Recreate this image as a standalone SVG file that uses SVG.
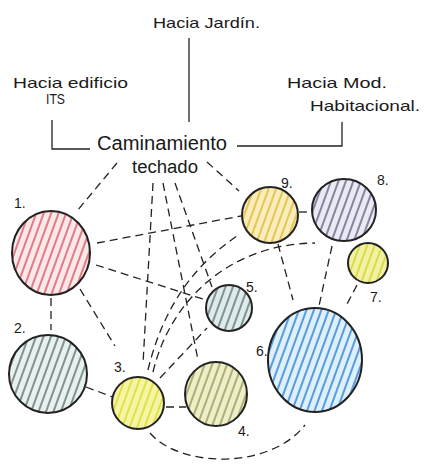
<svg xmlns="http://www.w3.org/2000/svg" width="425" height="471" viewBox="0 0 425 471">
<defs>
<pattern id="h1" width="7" height="10" patternUnits="userSpaceOnUse" patternTransform="rotate(20)"><rect width="7" height="10" fill="#fbe8e8"/><line x1="2" y1="0" x2="2" y2="10" stroke="#d8404e" stroke-width="1.3"/></pattern>
<pattern id="h2" width="7" height="10" patternUnits="userSpaceOnUse" patternTransform="rotate(20)"><rect width="7" height="10" fill="#e6f1f0"/><line x1="2" y1="0" x2="2" y2="10" stroke="#4d5d5a" stroke-width="1.3"/></pattern>
<pattern id="h3" width="7" height="10" patternUnits="userSpaceOnUse" patternTransform="rotate(20)"><rect width="7" height="10" fill="#f6f5a6"/><line x1="2" y1="0" x2="2" y2="10" stroke="#dcdc30" stroke-width="1.6"/></pattern>
<pattern id="h4" width="7" height="10" patternUnits="userSpaceOnUse" patternTransform="rotate(20)"><rect width="7" height="10" fill="#eeeec8"/><line x1="2" y1="0" x2="2" y2="10" stroke="#8c8c4c" stroke-width="1.3"/></pattern>
<pattern id="h5" width="7" height="10" patternUnits="userSpaceOnUse" patternTransform="rotate(20)"><rect width="7" height="10" fill="#dfeaea"/><line x1="2" y1="0" x2="2" y2="10" stroke="#4c6464" stroke-width="1.3"/></pattern>
<pattern id="h6" width="7" height="10" patternUnits="userSpaceOnUse" patternTransform="rotate(20)"><rect width="7" height="10" fill="#def0fb"/><line x1="2" y1="0" x2="2" y2="10" stroke="#2e7fd2" stroke-width="1.5"/></pattern>
<pattern id="h7" width="7" height="10" patternUnits="userSpaceOnUse" patternTransform="rotate(20)"><rect width="7" height="10" fill="#f2f2a2"/><line x1="2" y1="0" x2="2" y2="10" stroke="#d4d636" stroke-width="1.6"/></pattern>
<pattern id="h8" width="7" height="10" patternUnits="userSpaceOnUse" patternTransform="rotate(20)"><rect width="7" height="10" fill="#eaeaf3"/><line x1="2" y1="0" x2="2" y2="10" stroke="#4f4d78" stroke-width="1.3"/></pattern>
<pattern id="h9" width="7" height="10" patternUnits="userSpaceOnUse" patternTransform="rotate(20)"><rect width="7" height="10" fill="#f9eebb"/><line x1="2" y1="0" x2="2" y2="10" stroke="#e2bb3c" stroke-width="1.6"/></pattern>
</defs>
<style>
text{font-family:"Liberation Sans","DejaVu Sans",sans-serif;fill:#1a1a1a}
.lbl{font-size:15px}
.num{font-size:14px}
.node{stroke:#222;stroke-width:2}
.solid{fill:none;stroke:#222;stroke-width:1.3}
.dash{fill:none;stroke:#222;stroke-width:1.3;stroke-dasharray:8 5}
</style>
<rect width="425" height="471" fill="#ffffff"/>

<g id="labels">
<text class="lbl" x="153" y="28" textLength="107" lengthAdjust="spacingAndGlyphs">Hacia Jardín.</text>
<text class="lbl" x="13" y="88" textLength="115" lengthAdjust="spacingAndGlyphs">Hacia edificio</text>
<text class="lbl" x="46" y="104" font-size="14" textLength="19" lengthAdjust="spacingAndGlyphs">ITS</text>
<text class="lbl" x="287" y="88" textLength="100" lengthAdjust="spacingAndGlyphs">Hacia Mod.</text>
<text class="lbl" x="310" y="111" textLength="110" lengthAdjust="spacingAndGlyphs">Habitacional.</text>
</g>

<g id="caminamiento">
<text x="97" y="150" font-size="20" textLength="130" lengthAdjust="spacingAndGlyphs">Caminamiento</text>
<text x="132" y="173" font-size="18" textLength="66" lengthAdjust="spacingAndGlyphs">techado</text>
</g>

<g id="connectors">
<path class="solid" d="M189 38 V122"/>
<path class="solid" d="M52 120 V149 H90"/>
<path class="solid" d="M237 146 H342 V122"/>
<path class="dash" d="M117 163 L77 211"/>
<path class="dash" d="M207 162 L239 191"/>
<path class="dash" d="M153 183 L143 364"/>
<path class="dash" d="M163 183 L198 360"/>
<path class="dash" d="M175 183 L212 287"/>
<path class="dash" d="M97 243 L241 216"/>
<path class="dash" d="M96 265 L206 300"/>
<path class="dash" d="M51 298 V330"/>
<path class="dash" d="M80 289 L115 346"/>
<path class="dash" d="M86 387 L113 397"/>
<path class="dash" d="M166 407 H186"/>
<path class="dash" d="M160 378 L207 328"/>
<path class="dash" d="M148 370 C160 320 185 270 240 234"/>
<path class="dash" d="M153 372 C170 300 230 244 315 243"/>
<path class="dash" d="M299 212 H312"/>
<path class="dash" d="M278 244 L293 300"/>
<path class="dash" d="M332 246 L319 306"/>
<path class="dash" d="M357 285 L346 306"/>
<path class="dash" d="M150 433 C180 468 270 470 305 425"/>
</g>

<g id="n1"><ellipse class="node" cx="51" cy="253" rx="39" ry="42" fill="url(#h1)"/><text class="num" x="14" y="208">1.</text></g>
<g id="n2"><circle class="node" cx="48" cy="374" r="39" fill="url(#h2)"/><text class="num" x="14" y="333">2.</text></g>
<g id="n3"><circle class="node" cx="138" cy="403" r="26" fill="url(#h3)"/><text class="num" x="114" y="372">3.</text></g>
<g id="n4"><ellipse class="node" cx="216" cy="394" rx="31" ry="32" fill="url(#h4)"/><text class="num" x="238" y="436">4.</text></g>
<g id="n5"><circle class="node" cx="229" cy="308" r="23" fill="url(#h5)"/><text class="num" x="246" y="292">5.</text></g>
<g id="n6"><ellipse class="node" cx="315" cy="360" rx="47" ry="52" fill="url(#h6)"/><text class="num" x="256" y="356">6.</text></g>
<g id="n7"><circle class="node" cx="368" cy="263" r="20" fill="url(#h7)"/><text class="num" x="370" y="302">7.</text></g>
<g id="n8"><ellipse class="node" cx="344" cy="210" rx="32" ry="31" fill="url(#h8)"/><text class="num" x="377" y="185">8.</text></g>
<g id="n9"><circle class="node" cx="270" cy="215" r="28" fill="url(#h9)"/><text class="num" x="281" y="188">9.</text></g>
</svg>
